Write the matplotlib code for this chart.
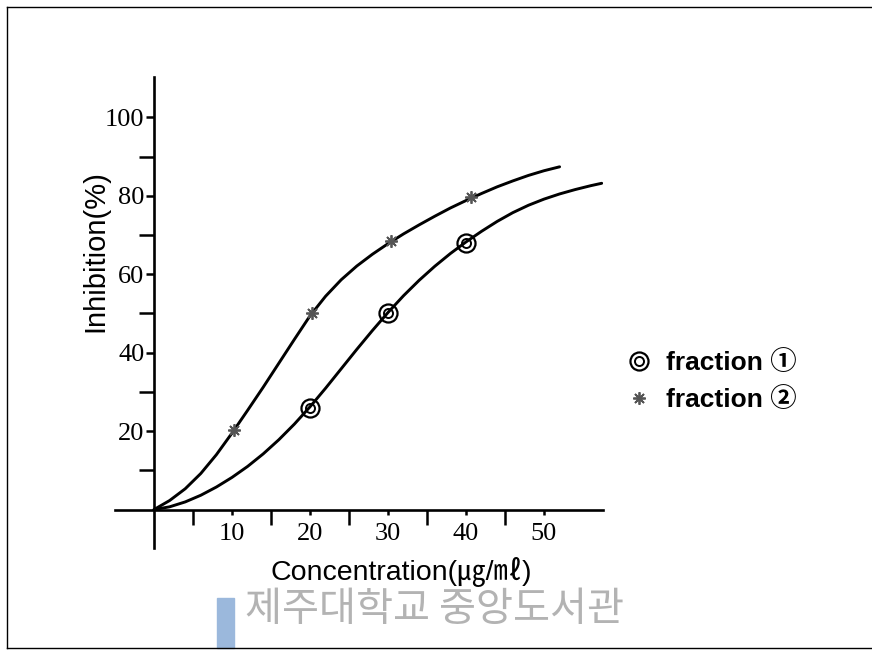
import matplotlib
matplotlib.use("Agg")
import matplotlib.pyplot as plt
from matplotlib.lines import Line2D
from matplotlib.patches import Rectangle
from matplotlib.legend_handler import HandlerTuple
from matplotlib.ticker import FixedLocator

# ---- data ----
frac1_x = [20, 30, 40]
frac1_y = [26, 50, 68]
frac2_x = [10.2, 20.2, 30.4, 40.6]
frac2_y = [20.2, 50, 68.4, 79.6]

curve1_x = [0, 2, 4, 6, 8, 10, 12, 14, 16, 18, 20, 22, 24, 26, 28, 30,
            32, 34, 36, 38, 40, 42, 44, 46, 48, 50, 52, 54, 56, 57.4]
curve1_y = [0, 0.7, 1.95, 3.65, 5.75, 8.2, 11.0, 14.2, 17.8, 21.8, 26.2, 30.95,
            35.9, 40.85, 45.65, 50.25, 54.55, 58.47, 62.04, 65.29, 68.24, 70.96,
            73.48, 75.71, 77.59, 79.16, 80.48, 81.6, 82.59, 83.2]

curve2_x = [0, 2, 4, 6, 8, 10, 12, 14, 16, 18, 20, 22, 24, 26, 28, 30,
            32, 34, 36, 38, 40, 42, 44, 46, 48, 50, 52]
curve2_y = [0, 2.3, 5.3, 9.2, 14.0, 19.5, 25.3, 31.2, 37.3, 43.4, 49.4, 54.4,
            58.6, 62.1, 65.1, 67.8, 70.3, 72.6, 74.8, 76.9, 78.8, 80.6, 82.3,
            83.8, 85.2, 86.4, 87.4]

x_major = [10, 20, 30, 40, 50]
x_minor = [5, 15, 25, 35, 45]
y_major = [20, 40, 60, 80, 100]
y_minor = [10, 30, 50, 70, 90]

legend_labels = ["fraction \u2460", "fraction \u2461"]
xlabel = "Concentration(\u338d/\u3396)"
ylabel = "Inhibition(%)"
watermark = "\uc81c\uc8fc\ub300\ud559\uad50 \uc911\uc559\ub3c4\uc11c\uad00"

W, H = 872, 654
fig = plt.figure(figsize=(W / 100, H / 100), dpi=100)
fig.patch.set_facecolor("white")

ax = fig.add_axes([115 / W, 1 - 548 / H, (602.5 - 115) / W, (548 - 77) / H])
ax.set_xlim(-5, 57.5)
ax.set_ylim(-9.8, 110.3)
ax.patch.set_alpha(0)

for s in ["top", "right"]:
    ax.spines[s].set_visible(False)
ax.spines["left"].set_position(("data", 0))
ax.spines["bottom"].set_position(("data", 0))
for s in ["left", "bottom"]:
    ax.spines[s].set_linewidth(1.9)
    ax.spines[s].set_color("black")

ax.xaxis.set_major_locator(FixedLocator(x_major))
ax.xaxis.set_minor_locator(FixedLocator(x_minor))
ax.yaxis.set_major_locator(FixedLocator(y_major))
ax.yaxis.set_minor_locator(FixedLocator(y_minor))

serif = {"family": "Liberation Serif", "size": 19}
ax.set_xticklabels([str(v) for v in x_major], fontdict=serif)
ax.set_yticklabels([str(v) for v in y_major], fontdict=serif)
ax.tick_params(axis="x", which="major", direction="out", length=3.6, width=1.8, pad=6)
ax.tick_params(axis="x", which="minor", direction="out", length=11, width=1.8)
ax.tick_params(axis="y", which="major", direction="out", length=6, width=1.8, pad=1)
ax.tick_params(axis="y", which="minor", direction="out", length=11, width=1.8)

# curves
ax.plot(curve1_x, curve1_y, color="black", lw=2.1, solid_capstyle="round",
        solid_joinstyle="round", zorder=2)
ax.plot(curve2_x, curve2_y, color="black", lw=2.1, solid_capstyle="round",
        solid_joinstyle="round", zorder=2)

# fraction 1 markers: double circle
h1o, = ax.plot(frac1_x, frac1_y, ls="none", marker="o", ms=13, mfc="none",
               mec="black", mew=1.6, zorder=3)
h1i, = ax.plot(frac1_x, frac1_y, ls="none", marker="o", ms=6.5, mfc="none",
               mec="black", mew=1.4, zorder=3)
# fraction 2 markers: asterisk
h2, = ax.plot(frac2_x, frac2_y, ls="none", marker=(8, 2, 0), ms=9, color="#555555",
              mew=1.3, zorder=3)

leg = ax.legend([(h1o, h1i), h2], legend_labels,
                handler_map={tuple: HandlerTuple(ndivide=1)},
                loc="center left", bbox_to_anchor=(626 / W, 1 - 381 / H),
                bbox_transform=fig.transFigure, frameon=False,
                prop={"family": ["Liberation Sans", "Noto Sans CJK KR"],
                      "weight": "bold", "size": 19},
                handlelength=1.0, handletextpad=0.5, labelspacing=0.45,
                borderaxespad=0, borderpad=0)

fig.text(95 / W, 1 - 251 / H, ylabel, rotation=90, ha="center", va="center",
         family=["Liberation Sans", "Noto Sans CJK KR"], fontsize=21)
fig.text(401 / W, 1 - 572 / H, xlabel, ha="center", va="center",
         family=["Liberation Sans", "Noto Sans CJK KR"], fontsize=20.5)

# watermark
fig.patches.append(Rectangle((217 / W, 1 - 648 / H), 17 / W, 50 / H,
                             transform=fig.transFigure, color="#9bb8dc", zorder=0))
fig.text(434 / W, 1 - 609 / H, watermark, ha="center", va="center",
         family=["Noto Sans CJK KR"], fontsize=29, color="#b3b3b3", zorder=0)

# scanned page frame
fig.add_artist(Line2D([7 / W, 7 / W], [1 - 648 / H, 1 - 7 / H], transform=fig.transFigure,
                      color="black", lw=1.0))
fig.add_artist(Line2D([7 / W, 1.0], [1 - 7 / H, 1 - 7 / H], transform=fig.transFigure,
                      color="black", lw=1.0))
fig.add_artist(Line2D([7 / W, 1.0], [1 - 648 / H, 1 - 648 / H], transform=fig.transFigure,
                      color="black", lw=1.0))

fig.savefig("out.png", dpi=100)
